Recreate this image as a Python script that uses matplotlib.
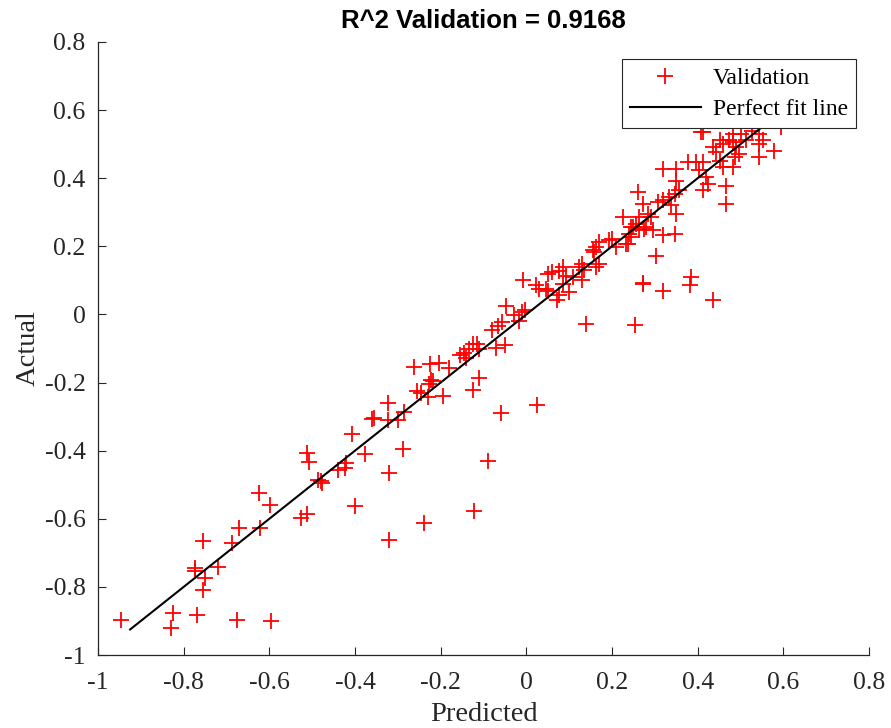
import matplotlib
matplotlib.use("Agg")
import matplotlib.pyplot as plt

predicted = [
    -0.946, -0.824, -0.829, -0.770, -0.675, -0.597, -0.755, -0.750, -0.774, -0.774,
    -0.720, -0.754, -0.686, -0.671, -0.622, -0.623, -0.598, -0.525, -0.513, -0.480,
    -0.399, -0.320, -0.240, -0.123, -0.320, -0.289, -0.090, -0.486, -0.476, -0.439,
    -0.423, -0.421, -0.376, -0.511, -0.507, -0.406, -0.360, -0.355, -0.322, -0.322,
    -0.300, -0.286, -0.263, -0.224, -0.203, -0.180, -0.228, -0.222, -0.219, -0.256,
    -0.246, -0.230, -0.194, -0.125, -0.111, -0.154, -0.145, -0.133, -0.125, -0.116,
    -0.111, -0.141, -0.059, 0.025, -0.071, -0.049, -0.079, -0.067, -0.057, -0.047,
    -0.028, -0.016, -0.009, -0.002, -0.007, 0.023, 0.030, 0.046, 0.051, 0.077,
    0.071, 0.100, 0.050, 0.061, 0.077, 0.085, 0.093, 0.108, 0.130, 0.135,
    0.131, 0.163, 0.170, 0.139, 0.254, 0.272, 0.163, 0.170, 0.159, 0.194,
    0.209, 0.233, 0.240, 0.248, 0.256, 0.264, 0.275, 0.085, 0.124, 0.155,
    0.201, 0.225, 0.244, 0.264, 0.244, 0.237, 0.279, 0.291, 0.260, 0.272,
    0.283, 0.307, 0.318, 0.334, 0.346, 0.338, 0.350, 0.346, 0.318, 0.295,
    0.303, 0.272, 0.320, 0.385, 0.381, 0.435, 0.318, 0.350, 0.350, 0.357,
    0.377, 0.396, 0.404, 0.412, 0.420, 0.423, 0.412, 0.466, 0.466, 0.412,
    0.435, 0.443, 0.451, 0.458, 0.474, 0.482, 0.490, 0.497, 0.486, 0.482,
    0.458, 0.451, 0.482, 0.501, 0.513, 0.528, 0.544, 0.544, 0.552, 0.544,
    0.579, 0.595, 0.408,
]
actual = [
    -0.898, -0.876, -0.921, -0.883, -0.896, -0.901, -0.810, -0.773, -0.744, -0.752,
    -0.742, -0.664, -0.670, -0.626, -0.627, -0.524, -0.561, -0.598, -0.585, -0.490,
    -0.563, -0.662, -0.613, -0.576, -0.466, -0.396, -0.429, -0.487, -0.494, -0.458,
    -0.450, -0.437, -0.411, -0.407, -0.434, -0.352, -0.306, -0.303, -0.261, -0.311,
    -0.309, -0.285, -0.155, -0.145, -0.143, -0.157, -0.203, -0.192, -0.196, -0.226,
    -0.231, -0.243, -0.240, -0.221, -0.187, -0.120, -0.114, -0.101, -0.088, -0.086,
    -0.101, -0.127, -0.290, -0.267, -0.098, -0.091, -0.047, -0.035, -0.023, 0.026,
    -0.003, -0.018, 0.007, 0.014, 0.100, 0.085, 0.075, 0.075, 0.070, 0.056,
    0.041, 0.065, 0.119, 0.124, 0.127, 0.139, 0.114, 0.110, 0.149, 0.131,
    0.100, 0.139, 0.149, -0.029, -0.032, 0.088, 0.198, 0.212, 0.183, 0.219,
    0.198, 0.208, 0.237, 0.256, 0.266, 0.247, 0.252, 0.090, 0.139, 0.188,
    0.222, 0.286, 0.256, 0.286, 0.227, 0.208, 0.256, 0.286, 0.359, 0.325,
    0.296, 0.330, 0.335, 0.344, 0.354, 0.320, 0.296, 0.237, 0.232, 0.247,
    0.173, 0.092, 0.068, 0.110, 0.085, 0.041, 0.428, 0.428, 0.393, 0.364,
    0.448, 0.448, 0.423, 0.448, 0.403, 0.384, 0.364, 0.376, 0.325, 0.535,
    0.491, 0.477, 0.511, 0.501, 0.511, 0.506, 0.491, 0.472, 0.462, 0.432,
    0.432, 0.452, 0.530, 0.530, 0.511, 0.540, 0.530, 0.501, 0.511, 0.462,
    0.479, 0.550, 0.535,
]
fit_x = [-0.925, 0.565]
fit_y = [-0.925, 0.565]

xticks = [-1, -0.8, -0.6, -0.4, -0.2, 0, 0.2, 0.4, 0.6, 0.8]
xticklabels = ["-1", "-0.8", "-0.6", "-0.4", "-0.2", "0", "0.2", "0.4", "0.6", "0.8"]
yticks = [-1, -0.8, -0.6, -0.4, -0.2, 0, 0.2, 0.4, 0.6, 0.8]
yticklabels = ["-1", "-0.8", "-0.6", "-0.4", "-0.2", "0", "0.2", "0.4", "0.6", "0.8"]

title = "R^2 Validation = 0.9168"

fig = plt.figure(figsize=(8.91, 7.28), dpi=100)
ax = fig.add_axes([98 / 891, 73 / 728, 771 / 891, 613 / 728])

ax.plot(predicted, actual, linestyle="none", marker="+", color="red",
        markersize=11, markeredgewidth=1.3, label="Validation")
ax.plot(fit_x, fit_y, color="black", linewidth=1.5, label="Perfect fit line")

ax.set_xlim(-1, 0.8)
ax.set_ylim(-1, 0.8)
ax.set_xticks(xticks)
ax.set_xticklabels(xticklabels)
ax.set_yticks(yticks)
ax.set_yticklabels(yticklabels)

serif = "Liberation Serif"
for lbl in ax.get_xticklabels() + ax.get_yticklabels():
    lbl.set_fontfamily(serif)
    lbl.set_fontsize(18.5)
    lbl.set_color("#262626")

ax.tick_params(direction="in", length=6, width=0.8, colors="#262626")
ax.tick_params(axis="x", pad=12)
ax.tick_params(axis="y", pad=9)
ax.spines["top"].set_visible(False)
ax.spines["right"].set_visible(False)
for s in ("left", "bottom"):
    ax.spines[s].set_color("#262626")
    ax.spines[s].set_linewidth(0.9)

ax.set_xlabel("Predicted", fontfamily=serif, fontsize=20.5, color="#262626", labelpad=6)
ax.set_ylabel("Actual", fontfamily=serif, fontsize=20.5, color="#262626", labelpad=3)
ax.set_title(title, fontfamily="Liberation Sans", fontweight="bold", fontsize=18.5, pad=10)

leg = ax.legend(loc="upper right", bbox_to_anchor=(0.983, 0.972),
                prop={"family": serif, "size": 17}, frameon=True, fancybox=False,
                edgecolor="#262626", framealpha=1, borderpad=0.35, labelspacing=0.4,
                handlelength=3.0, handletextpad=0.5, borderaxespad=0)
leg.get_frame().set_linewidth(0.8)

fig.savefig("out.png", dpi=100)
